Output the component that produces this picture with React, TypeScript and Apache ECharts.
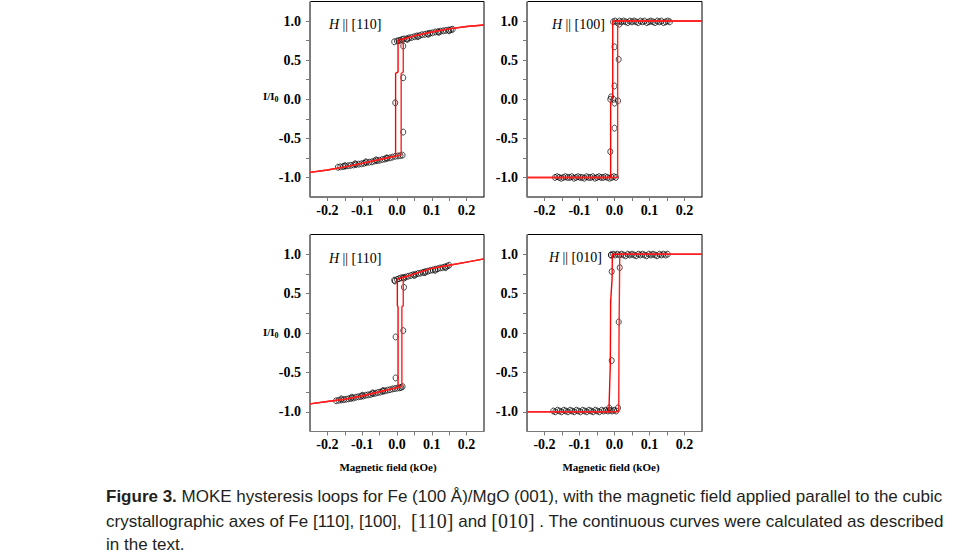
import React, { useEffect, useRef } from "react";
import * as echarts from "echarts";

// ---------- tick labels ----------
const xTickValues = [-0.2, -0.1, 0.0, 0.1, 0.2];
const xTickLabels = ["-0.2", "-0.1", "0.0", "0.1", "0.2"];
const yTickValues = [-1.0, -0.5, 0.0, 0.5, 1.0];
const yTickLabels = ["-1.0", "-0.5", "0.0", "0.5", "1.0"];

// ---------- panel titles ----------
const panelAxes = ["[110]", "[100]", "[110]", "[010]"];

// ---------- H || [110] (top left) ----------
const tlUpper = [
  [-0.008, 0.735], [0.0, 0.745], [0.005, 0.75], [0.01, 0.755], [0.015, 0.765], [0.02, 0.77],
  [0.028, 0.775], [0.035, 0.785], [0.042, 0.79], [0.05, 0.8], [0.057, 0.81], [0.065, 0.815],
  [0.072, 0.825], [0.08, 0.83], [0.088, 0.84], [0.095, 0.845], [0.102, 0.85], [0.11, 0.86],
  [0.118, 0.865], [0.125, 0.87], [0.133, 0.875], [0.14, 0.88], [0.148, 0.885], [0.155, 0.89],
  [0.16, 0.895], [0.03, 0.765], [0.06, 0.8], [0.09, 0.83], [0.12, 0.855], [0.15, 0.875],
];
const tlLower = [
  [-0.17, -0.87], [-0.163, -0.865], [-0.155, -0.86], [-0.148, -0.855], [-0.14, -0.85],
  [-0.133, -0.845], [-0.125, -0.84], [-0.118, -0.835], [-0.11, -0.83], [-0.102, -0.825],
  [-0.095, -0.82], [-0.088, -0.81], [-0.08, -0.805], [-0.072, -0.8], [-0.065, -0.79],
  [-0.057, -0.785], [-0.05, -0.78], [-0.042, -0.77], [-0.035, -0.765], [-0.028, -0.755],
  [-0.02, -0.75], [-0.013, -0.74], [-0.005, -0.73], [0.003, -0.725], [0.01, -0.72],
  [0.016, -0.715], [-0.15, -0.85], [-0.12, -0.825], [-0.09, -0.8], [-0.06, -0.775], [-0.03, -0.75],
];
const tlSwitch = [[-0.005, -0.045], [0.018, 0.275], [0.018, -0.42], [0.018, 0.68]];
const tlFitDown = [
  [0.25, 0.95], [0.2, 0.93], [0.15, 0.9], [0.1, 0.86], [0.05, 0.81], [0.003, 0.755],
  [0.003, 0.35], [-0.004, 0.33], [-0.004, -0.725], [-0.05, -0.77], [-0.1, -0.82],
  [-0.15, -0.865], [-0.2, -0.905], [-0.25, -0.935],
];
const tlFitUp = [
  [-0.25, -0.935], [-0.2, -0.905], [-0.15, -0.865], [-0.1, -0.82], [-0.05, -0.77],
  [0.012, -0.715], [0.012, 0.33], [0.018, 0.35], [0.018, 0.765], [0.05, 0.81], [0.1, 0.86],
  [0.15, 0.9], [0.2, 0.93], [0.25, 0.95],
];

// ---------- H || [100] (top right) ----------
const trUpper = [
  [-0.004, 0.99], [0.002, 1.0], [0.008, 0.98], [0.014, 1.0], [0.02, 0.99], [0.026, 1.0],
  [0.032, 0.99], [0.038, 0.98], [0.044, 1.0], [0.05, 0.99], [0.056, 1.0], [0.062, 0.99],
  [0.068, 0.98], [0.074, 1.0], [0.08, 0.99], [0.086, 1.0], [0.092, 0.98], [0.098, 0.99],
  [0.104, 1.0], [0.11, 0.99], [0.116, 0.98], [0.122, 1.0], [0.128, 0.99], [0.134, 1.0],
  [0.14, 0.98], [0.146, 0.99], [0.152, 1.0], [0.158, 0.99],
];
const trLower = [
  [-0.17, -1.0], [-0.164, -0.99], [-0.158, -1.0], [-0.152, -1.01], [-0.146, -1.0],
  [-0.14, -0.99], [-0.134, -1.0], [-0.128, -1.0], [-0.122, -0.99], [-0.116, -1.01],
  [-0.11, -1.0], [-0.104, -0.99], [-0.098, -1.0], [-0.092, -1.0], [-0.086, -1.01],
  [-0.08, -0.99], [-0.074, -1.0], [-0.068, -1.0], [-0.062, -0.99], [-0.056, -1.01],
  [-0.05, -1.0], [-0.044, -0.99], [-0.038, -1.0], [-0.032, -1.0], [-0.026, -0.99],
  [-0.02, -1.0], [-0.014, -1.01], [-0.008, -1.0], [-0.002, -0.99], [0.004, -1.0],
];
const trSwitch = [
  [0.0, 0.67], [0.012, 0.51], [0.0, 0.17], [-0.01, 0.03], [-0.003, 0.0], [0.0, -0.05],
  [0.01, -0.02], [0.0, -0.37], [-0.012, -0.67], [0.014, 0.96], [-0.012, 0.0],
];
const trFitDown = [[0.25, 1.0], [-0.005, 1.0], [-0.005, 0.05], [-0.011, -0.05], [-0.011, -1.0], [-0.25, -1.0]];
const trFitUp = [[-0.25, -1.0], [0.009, -1.0], [0.009, 1.0], [0.25, 1.0]];

// ---------- H || [-110] (bottom left) ----------
const blUpper = [
  [-0.008, 0.67], [0.0, 0.68], [0.006, 0.69], [0.012, 0.7], [0.018, 0.705], [0.025, 0.71],
  [0.032, 0.72], [0.04, 0.73], [0.047, 0.74], [0.054, 0.745], [0.061, 0.755], [0.068, 0.76],
  [0.075, 0.77], [0.082, 0.78], [0.089, 0.785], [0.096, 0.795], [0.103, 0.8], [0.11, 0.81],
  [0.117, 0.815], [0.124, 0.825], [0.131, 0.83], [0.138, 0.84], [0.145, 0.85], [0.15, 0.86],
  [0.02, 0.695], [0.05, 0.73], [0.08, 0.765], [0.11, 0.795], [0.14, 0.83],
];
const blLower = [
  [-0.175, -0.86], [-0.168, -0.855], [-0.16, -0.85], [-0.153, -0.845], [-0.146, -0.84],
  [-0.139, -0.835], [-0.132, -0.83], [-0.125, -0.825], [-0.118, -0.815], [-0.111, -0.81],
  [-0.104, -0.805], [-0.097, -0.8], [-0.09, -0.79], [-0.083, -0.785], [-0.076, -0.78],
  [-0.069, -0.77], [-0.062, -0.765], [-0.055, -0.755], [-0.048, -0.75], [-0.041, -0.74],
  [-0.034, -0.735], [-0.027, -0.725], [-0.02, -0.72], [-0.013, -0.71], [-0.006, -0.705],
  [0.001, -0.7], [0.008, -0.695], [0.012, -0.69], [-0.16, -0.835], [-0.13, -0.815],
  [-0.1, -0.79], [-0.07, -0.76], [-0.04, -0.73],
];
const blSwitch = [[-0.004, -0.05], [0.018, 0.03], [0.02, 0.58], [-0.004, -0.57], [-0.006, 0.66], [0.016, -0.68]];
const blFitDown = [
  [0.25, 0.94], [0.2, 0.9], [0.15, 0.86], [0.1, 0.82], [0.05, 0.75], [0.001, 0.685],
  [0.001, 0.35], [0.003, 0.33], [0.003, -0.69], [-0.05, -0.745], [-0.1, -0.8],
  [-0.15, -0.84], [-0.2, -0.87], [-0.25, -0.9],
];
const blFitUp = [
  [-0.25, -0.9], [-0.2, -0.87], [-0.15, -0.84], [-0.1, -0.8], [-0.05, -0.745],
  [0.014, -0.68], [0.014, 0.33], [0.018, 0.35], [0.018, 0.7], [0.05, 0.75], [0.1, 0.82],
  [0.15, 0.86], [0.2, 0.9], [0.25, 0.94],
];

// ---------- H || [0-10] (bottom right) ----------
const brUpper = [
  [-0.01, 0.99], [-0.004, 1.0], [0.002, 0.99], [0.008, 1.0], [0.014, 0.99], [0.02, 1.0],
  [0.026, 0.99], [0.032, 0.98], [0.038, 1.0], [0.044, 0.99], [0.05, 1.0], [0.056, 0.99],
  [0.062, 0.98], [0.068, 1.0], [0.074, 0.99], [0.08, 1.0], [0.086, 0.99], [0.092, 0.98],
  [0.098, 1.0], [0.104, 0.99], [0.11, 1.0], [0.116, 0.99], [0.122, 0.98], [0.128, 1.0],
  [0.134, 0.99], [0.14, 1.0], [0.146, 0.99], [0.152, 1.0],
];
const brLower = [
  [-0.175, -0.99], [-0.169, -1.0], [-0.163, -0.98], [-0.157, -0.99], [-0.151, -1.0],
  [-0.145, -0.98], [-0.139, -0.99], [-0.133, -1.0], [-0.127, -0.98], [-0.121, -0.99],
  [-0.115, -1.0], [-0.109, -0.98], [-0.103, -0.99], [-0.097, -1.0], [-0.091, -0.98],
  [-0.085, -0.99], [-0.079, -1.0], [-0.073, -0.98], [-0.067, -0.99], [-0.061, -1.0],
  [-0.055, -0.98], [-0.049, -0.99], [-0.043, -1.0], [-0.037, -0.98], [-0.031, -0.99],
  [-0.025, -0.98], [-0.019, -0.99], [-0.013, -0.98], [-0.007, -0.99], [-0.001, -0.98],
  [0.005, -0.99],
];
const brSwitch = [[-0.01, 0.99], [-0.008, 0.78], [-0.008, -0.35], [0.015, 0.83], [0.012, 0.14], [0.01, -0.95], [-0.015, -0.95]];
const brFitDown = [
  [0.25, 1.0], [-0.006, 1.0], [-0.007, 0.68], [-0.011, 0.4], [-0.012, -0.4],
  [-0.014, -0.7], [-0.016, -1.0], [-0.25, -1.0],
];
const brFitUp = [[-0.25, -1.0], [0.012, -1.0], [0.013, 0.0], [0.015, 1.0], [0.25, 1.0]];

const panelData = [
  { pts: [tlUpper, tlLower, tlSwitch], fits: [tlFitDown, tlFitUp] },
  { pts: [trUpper, trLower, trSwitch], fits: [trFitDown, trFitUp] },
  { pts: [blUpper, blLower, blSwitch], fits: [blFitDown, blFitUp] },
  { pts: [brUpper, brLower, brSwitch], fits: [brFitDown, brFitUp] },
];

const SERIF = "'Liberation Serif', 'Times New Roman', serif";
const SANS = "'Liberation Sans', Arial, sans-serif";

const gridBoxes = [
  { left: 310, top: 1.5, width: 174, height: 195.5 },
  { left: 527, top: 1.5, width: 175, height: 195.5 },
  { left: 310, top: 234.5, width: 174, height: 197 },
  { left: 527, top: 234.5, width: 175, height: 197 },
];

function labelFor(values: number[], labels: string[], v: number) {
  for (let i = 0; i < values.length; i++) {
    if (Math.abs(values[i] - v) < 1e-6) return labels[i];
  }
  return "";
}

export default function App() {
  const ref = useRef<HTMLDivElement>(null);
  useEffect(() => {
    if (!ref.current) return;
    const chart = echarts.init(ref.current, null, { renderer: "svg" });

    const grid: any[] = [];
    const xAxis: any[] = [];
    const yAxis: any[] = [];
    const series: any[] = [];
    const axisColor = "#7a7a7a";
    const labelStyle = {
      fontFamily: SERIF,
      fontWeight: "bold",
      fontSize: 14,
      color: "#000",
    };

    gridBoxes.forEach((g, i) => {
      grid.push({ ...g, show: true, borderColor: "#000", borderWidth: 1, backgroundColor: "transparent" });
      xAxis.push({
        gridIndex: i,
        type: "value",
        min: -0.25,
        max: 0.25,
        interval: 0.05,
        axisLine: { show: true, onZero: false, lineStyle: { color: axisColor, width: 1 } },
        axisTick: { show: true, inside: false, length: 4, lineStyle: { color: axisColor } },
        splitLine: { show: false },
        axisLabel: {
          ...labelStyle,
          margin: 6,
          showMinLabel: false,
          showMaxLabel: false,
          formatter: (v: number) => labelFor(xTickValues, xTickLabels, v),
        },
      });
      yAxis.push({
        gridIndex: i,
        type: "value",
        min: -1.25,
        max: 1.25,
        interval: 0.25,
        axisLine: { show: true, onZero: false, lineStyle: { color: axisColor, width: 1 } },
        axisTick: { show: true, inside: false, length: 4, lineStyle: { color: axisColor } },
        splitLine: { show: false },
        axisLabel: {
          ...labelStyle,
          margin: 9,
          showMinLabel: false,
          showMaxLabel: false,
          formatter: (v: number) => labelFor(yTickValues, yTickLabels, v),
        },
      });
      const pd = panelData[i];
      pd.pts.forEach((arr) => {
        series.push({
          type: "scatter",
          xAxisIndex: i,
          yAxisIndex: i,
          data: arr,
          symbol: "circle",
          symbolSize: [5, 6],
          itemStyle: { color: "rgba(0,0,0,0)", borderColor: "#000", borderWidth: 0.9 },
          z: 2,
        });
      });
      pd.fits.forEach((arr, k) => {
        series.push({
          type: "line",
          xAxisIndex: i,
          yAxisIndex: i,
          data: arr,
          showSymbol: false,
          symbol: "none",
          lineStyle: { color: k === 0 ? "#ff0000" : "#ff2020", width: 1.4 },
          z: 3,
        });
      });
    });

    const panelLabel = (x: number, y: number, ax: string) => ({
      type: "text",
      left: x,
      top: y,
      style: {
        text: `{i|H} {n||| ${ax}}`,
        rich: {
          i: { fontFamily: SERIF, fontStyle: "italic", fontSize: 14, fill: "#000" },
          n: { fontFamily: SERIF, fontSize: 14, fill: "#000" },
        },
      },
    });

    const iLabel = (x: number, y: number) => ({
      type: "text",
      left: x,
      top: y,
      style: {
        text: "{a|I/I}{s|0}",
        rich: {
          a: { fontFamily: SERIF, fontWeight: "bold", fontSize: 11, fill: "#000" },
          s: { fontFamily: SERIF, fontWeight: "bold", fontSize: 8, fill: "#000", padding: [8, 0, 0, 0] },
        },
      },
    });

    const xTitle = (cx: number) => ({
      type: "text",
      x: cx,
      y: 467,
      style: {
        text: "Magnetic field (kOe)",
        fontFamily: SERIF,
        fontWeight: "bold",
        fontSize: 11,
        fill: "#000",
        align: "center",
        verticalAlign: "middle",
      },
    });

    const capRich = {
      b: { fontFamily: SANS, fontWeight: "bold", fontSize: 17, fill: "#231f20" },
      n: { fontFamily: SANS, fontSize: 17, fill: "#231f20" },
      s: { fontFamily: SERIF, fontSize: 20, fill: "#231f20" },
    };

    const option: any = {
      animation: false,
      backgroundColor: "#fff",
      grid,
      xAxis,
      yAxis,
      series,
      graphic: [
        panelLabel(329, 17, panelAxes[0]),
        panelLabel(552, 17, panelAxes[1]),
        panelLabel(329, 251, panelAxes[2]),
        panelLabel(549, 250, panelAxes[3]),
        iLabel(263, 90),
        iLabel(263, 326),
        xTitle(388),
        xTitle(611),
        {
          type: "text",
          left: 106,
          top: 488,
          style: {
            text: "{b|Figure 3.}{n| MOKE hysteresis loops for Fe (100 Å)/MgO (001), with the magnetic field applied parallel to the cubic}",
            rich: capRich,
          },
        },
        {
          type: "text",
          left: 106,
          top: 511,
          style: {
            text: "{n|crystallographic axes of Fe [110], [100],  }{s|[110]}{n| and }{s|[010]}{n| . The continuous curves were calculated as described}",
            rich: capRich,
          },
        },
        {
          type: "text",
          left: 106,
          top: 536,
          style: { text: "{n|in the text.}", rich: capRich },
        },
      ],
    };
    chart.setOption(option);
    return () => chart.dispose();
  }, []);

  return (
    <div
      ref={ref}
      style={{ position: "absolute", left: 0, top: 0, width: 965, height: 559, background: "#fff" }}
    />
  );
}
